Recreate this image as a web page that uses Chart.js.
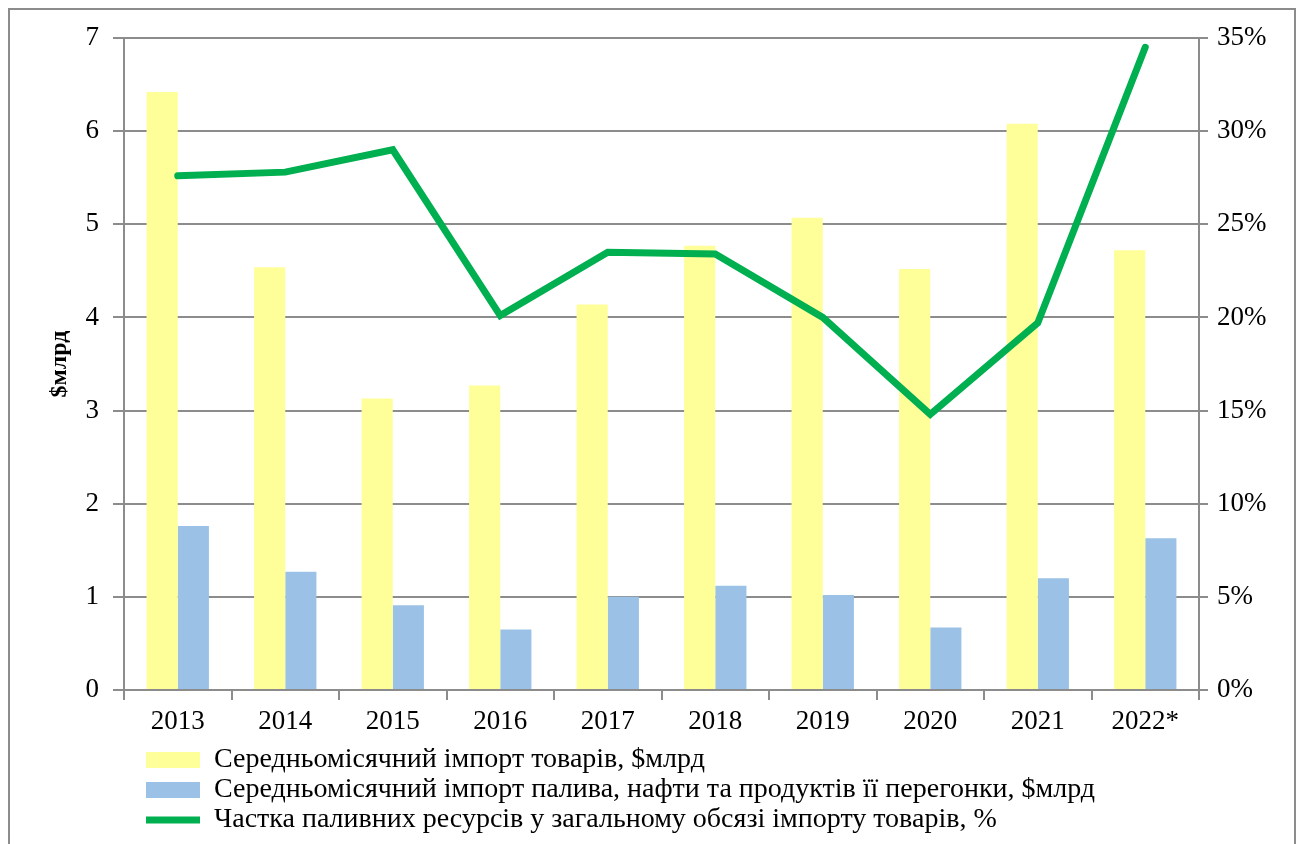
<!DOCTYPE html>
<html>
<head>
<meta charset="utf-8">
<script src="https://cdn.jsdelivr.net/npm/chart.js@4"></script>
<style>
  html, body { margin: 0; padding: 0; background: #fff; overflow: hidden; }
  #frame { position: absolute; left: 8px; top: 8px; width: 1284px; height: 860px; border: 2px solid #8c8c8c; }
  #c { position: absolute; left: 0; top: 0; }
</style>
</head>
<body>
<div id="frame"></div>
<canvas id="c" width="1302" height="844"></canvas>
<script>
// роки
var years = ['2013', '2014', '2015', '2016', '2017', '2018', '2019', '2020', '2021', '2022*'];
// середньомісячний імпорт товарів, $млрд
var importGoods = [6.42, 4.54, 3.13, 3.27, 4.14, 4.77, 5.07, 4.52, 6.08, 4.72];
// середньомісячний імпорт палива, $млрд
var importFuel = [1.76, 1.27, 0.91, 0.65, 1.00, 1.12, 1.02, 0.67, 1.20, 1.63];
// частка паливних ресурсів, %
var fuelShare = [27.6, 27.8, 29.0, 20.1, 23.5, 23.4, 20.0, 14.8, 19.7, 34.5];

var labelGoods = 'Середньомісячний імпорт товарів, $млрд';
var labelFuel = 'Середньомісячний імпорт палива, нафти та продуктів її перегонки, $млрд';
var labelShare = 'Частка паливних ресурсів у загальному обсязі імпорту товарів, %';

var serif = '"Liberation Serif", "Times New Roman", serif';
var gridGray = '#8c8c8c';

// зсув легенди вправо, як в оригіналі
var legendShift = {
	id: 'legendShift',
	beforeDraw: function(chart){
		chart.legend.left = 144;
	}
};

var ctx = document.getElementById('c').getContext('2d');
var myChart = new Chart(ctx, {
	type: 'bar',
	data: {
		labels: years,
		datasets: [{
			label: labelGoods,
			data: importGoods,
			backgroundColor: '#FFFF99',
			yAxisID: 'y',
			order: 2,
			pointStyle: 'rect',
			categoryPercentage: 0.58,
			barPercentage: 1.0
		}, {
			label: labelFuel,
			data: importFuel,
			backgroundColor: '#9BC2E6',
			yAxisID: 'y',
			order: 2,
			pointStyle: 'rect',
			categoryPercentage: 0.58,
			barPercentage: 1.0
		}, {
			type: 'line',
			label: labelShare,
			data: fuelShare,
			borderColor: '#00B050',
			backgroundColor: '#00B050',
			borderWidth: 7,
			borderCapStyle: 'round',
			borderJoinStyle: 'miter',
			pointRadius: 0,
			pointStyle: 'line',
			tension: 0,
			yAxisID: 'y1',
			order: 0
		}]
	},
	options: {
		responsive: false,
		animation: false,
		events: [],
		layout: { padding: { top: 38, left: 0, right: 0, bottom: 0 } },
		plugins: {
			tooltip: { enabled: false },
			legend: {
				position: 'bottom',
				align: 'start',
				labels: {
					usePointStyle: true,
					pointStyleWidth: 54,
					boxHeight: 16,
					padding: 2,
					color: '#000',
					font: { family: serif, size: 28 },
					sort: function(a, b){ return a.datasetIndex - b.datasetIndex; }
				}
			}
		},
		scales: {
			x: {
				offset: true,
				grid: {
					offset: true,
					drawOnChartArea: false,
					drawTicks: true,
					tickLength: 10,
					color: gridGray,
					lineWidth: 2
				},
				border: { display: true, color: gridGray, width: 2 },
				ticks: {
					color: '#000',
					padding: 6,
					maxRotation: 0,
					font: { family: serif, size: 27 }
				},
				afterFit: function(scale){ scale.height = 54; }
			},
			y: {
				position: 'left',
				min: 0,
				max: 7,
				ticks: {
					stepSize: 1,
					color: '#000',
					padding: 14,
					font: { family: serif, size: 27 }
				},
				grid: { color: gridGray, lineWidth: 2, tickLength: 11 },
				border: { display: true, color: gridGray, width: 2 },
				title: {
					display: true,
					text: '$млрд',
					color: '#000',
					padding: { top: 45, bottom: 0 },
					font: { family: serif, size: 24, weight: 'bold' }
				},
				afterFit: function(scale){ scale.width = 124; }
			},
			y1: {
				position: 'right',
				min: 0,
				max: 35,
				ticks: {
					stepSize: 5,
					color: '#000',
					padding: 9,
					font: { family: serif, size: 27 },
					callback: function(v){ return v + '%'; }
				},
				grid: { drawOnChartArea: false, color: gridGray, lineWidth: 2, tickLength: 9 },
				border: { display: true, color: gridGray, width: 2 },
				afterFit: function(scale){ scale.width = 103; }
			}
		}
	},
	plugins: [legendShift]
});
</script>
</body>
</html>
